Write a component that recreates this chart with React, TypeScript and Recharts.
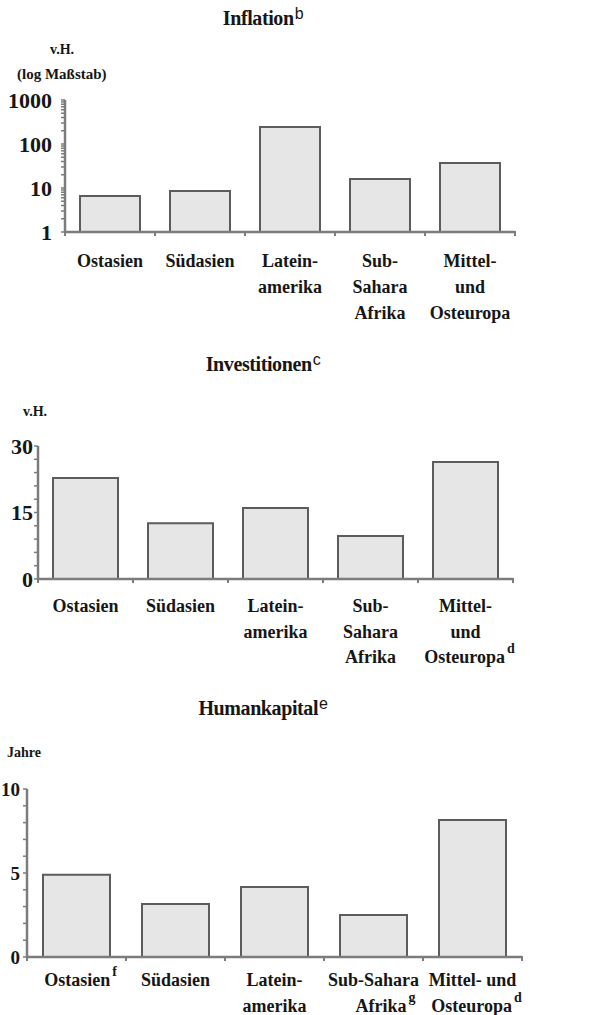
import { BarChart, Bar, XAxis, YAxis } from 'recharts';

// Regions on the x axis (same order in all three panels)
const regions = ['Ostasien', 'Südasien', 'Lateinamerika', 'Sub-Sahara Afrika', 'Mittel- und Osteuropa'];

// Tick labels as printed (line breaks per panel)
const labelsTop = [['Ostasien'], ['Südasien'], ['Latein-', 'amerika'], ['Sub-', 'Sahara', 'Afrika'], ['Mittel-', 'und', 'Osteuropa']];
const labelsBottom = [['Ostasien'], ['Südasien'], ['Latein-', 'amerika'], ['Sub-Sahara', 'Afrika'], ['Mittel- und', 'Osteuropa']];
const notesInflation = ['', '', '', '', ''];
const notesInvest = ['', '', '', '', 'd'];
const notesHuman = ['f', '', '', 'g', 'd'];

// Values
const inflation = [6.6, 8.5, 245, 16, 37]; // v.H., log scale
const investitionen = [22.8, 12.6, 16.0, 9.7, 26.4]; // v.H.
const humankapital = [4.9, 3.15, 4.17, 2.5, 8.15]; // Jahre

// Y ticks (major ones get a label)
const inflationTicks = [1, 2, 3, 4, 5, 6, 7, 8, 9, 10, 20, 30, 40, 50, 60, 70, 80, 90, 100, 200, 300, 400, 500, 600, 700, 800, 900, 1000];
const inflationMajor = [1, 10, 100, 1000];
const investTicks = [0, 3, 6, 9, 12, 15, 18, 21, 24, 27, 30];
const investMajor = [0, 15, 30];
const humanTicks = [0, 1, 2, 3, 4, 5, 6, 7, 8, 9, 10];
const humanMajor = [0, 5, 10];

const SERIF = "'Liberation Serif', 'DejaVu Serif', serif";
const INK = '#161616';
const AXIS = '#7c7c7c';

const makeRows = (values: number[]) => regions.map((name, i) => ({ name, value: values[i] }));

function CategoryTick(props: any) {
  const { x, y, payload, index, labels, notes, shifts, firstDy, lineGap, half, count } = props;
  const idx = index ?? payload.index;
  const rows: string[] = labels[idx];
  const note: string = notes[idx];
  const shift: number = shifts ? shifts[idx] : 0;
  const h = payload.offset ?? half;
  return (
    <g>
      <line x1={x - h} y1={y - 1} x2={x - h} y2={y + 4} stroke={AXIS} strokeWidth={2} />
      {idx === count - 1 && <line x1={x + h} y1={y - 1} x2={x + h} y2={y + 4} stroke={AXIS} strokeWidth={2} />}
      <text textAnchor="middle" fontFamily={SERIF} fontWeight="bold" fontSize={18} fill={INK}>
        {rows.map((r, i) => (
          <tspan key={i} x={note && i === rows.length - 1 ? x + 4 + shift : x} y={y + firstDy + i * lineGap}>
            {r}
          </tspan>
        ))}
        {note && (
          <tspan dx={2} dy={-10} fontSize={14} fontWeight="bold">
            {note}
          </tspan>
        )}
      </text>
    </g>
  );
}

interface PanelProps {
  top: number;
  height: number;
  plotLeft: number;
  plotRight: number;
  plotTop: number;
  plotBottom: number;
  values: number[];
  labels: string[][];
  notes: string[];
  shifts?: number[];
  ticks: number[];
  major: number[];
  domain: [number, number];
  log?: boolean;
  tickFont: number;
  tickMargin: number;
  firstDy: number;
  lineGap: number;
  gap: number;
}

function Panel(p: PanelProps) {
  const width = 597;
  const band = (p.plotRight - p.plotLeft) / regions.length;
  return (
    <div style={{ position: 'absolute', left: 0, top: p.top }}>
      <BarChart
        width={width}
        height={p.height}
        data={makeRows(p.values)}
        barCategoryGap={p.gap}
        margin={{ top: p.plotTop, right: width - p.plotRight, left: 0, bottom: p.height - p.plotBottom - 30 }}
      >
        <XAxis
          dataKey="name"
          height={30}
          interval={0}
          tickLine={false}
          tickSize={0}
          tickMargin={0}
          axisLine={{ stroke: AXIS, strokeWidth: 2.5 }}
          tick={
            <CategoryTick
              labels={p.labels}
              notes={p.notes}
              shifts={p.shifts}
              firstDy={p.firstDy}
              lineGap={p.lineGap}
              half={band / 2}
              count={regions.length}
            />
          }
        />
        <YAxis
          width={p.plotLeft}
          type="number"
          scale={p.log ? 'log' : 'auto'}
          domain={p.domain}
          allowDataOverflow
          ticks={p.ticks}
          interval={0}
          tickSize={4}
          tickMargin={p.tickMargin}
          tickFormatter={(v: number) => (p.major.includes(v) ? String(v) : '')}
          tickLine={{ stroke: AXIS, strokeWidth: 1.5 }}
          axisLine={{ stroke: AXIS, strokeWidth: 2.5 }}
          tick={{ fill: INK, fontSize: p.tickFont, fontWeight: 'bold', fontFamily: SERIF }}
        />
        <Bar dataKey="value" fill="#e6e6e6" stroke="#5c5c5c" strokeWidth={2} isAnimationActive={false} />
      </BarChart>
    </div>
  );
}

const titleStyle = (top: number): React.CSSProperties => ({
  position: 'absolute',
  left: 0,
  width: 526,
  top,
  textAlign: 'center',
  fontFamily: SERIF,
  fontWeight: 'bold',
  fontSize: 20,
  letterSpacing: -0.4,
  lineHeight: 1,
  color: INK,
});

const supStyle: React.CSSProperties = {
  fontFamily: "'Liberation Sans', Arial, sans-serif",
  fontWeight: 'normal',
  fontSize: 16,
  position: 'relative',
  top: -6,
  marginLeft: 1,
};

const unitStyle = (left: number, top: number, size = 14): React.CSSProperties => ({
  position: 'absolute',
  left,
  top,
  fontFamily: SERIF,
  fontWeight: 'bold',
  fontSize: size,
  lineHeight: 1,
  color: INK,
  whiteSpace: 'nowrap',
});

export default function App() {
  return (
    <div style={{ position: 'absolute', left: 0, top: 0, width: 597, height: 1015, background: '#fff', overflow: 'hidden' }}>
      <div style={titleStyle(8)}>
        Inflation<span style={supStyle}>b</span>
      </div>
      <div style={unitStyle(50, 43)}>v.H.</div>
      <div style={unitStyle(17, 67, 15)}>(log Maßstab)</div>
      <Panel
        top={0}
        height={330}
        plotLeft={65}
        plotRight={515}
        plotTop={100}
        plotBottom={232}
        values={inflation}
        labels={labelsTop}
        notes={notesInflation}
        ticks={inflationTicks}
        major={inflationMajor}
        domain={[1, 1000]}
        log
        tickFont={22}
        tickMargin={9}
        firstDy={35}
        lineGap={26}
        gap={15}
      />

      <div style={titleStyle(354)}>
        Investitionen<span style={supStyle}>c</span>
      </div>
      <div style={unitStyle(23, 405)}>v.H.</div>
      <Panel
        top={340}
        height={360}
        plotLeft={38}
        plotRight={513}
        plotTop={106}
        plotBottom={239}
        values={investitionen}
        labels={labelsTop}
        notes={notesInvest}
        ticks={investTicks}
        major={investMajor}
        domain={[0, 30]}
        tickFont={22}
        tickMargin={1}
        firstDy={33}
        lineGap={25.5}
        gap={15}
      />

      <div style={titleStyle(698)}>
        Humankapital<span style={supStyle}>e</span>
      </div>
      <div style={unitStyle(7, 746)}>Jahre</div>
      <Panel
        top={700}
        height={315}
        plotLeft={27}
        plotRight={522}
        plotTop={89}
        plotBottom={257}
        values={humankapital}
        labels={labelsBottom}
        notes={notesHuman}
        shifts={[0, 0, 0, 8, 0]}
        ticks={humanTicks}
        major={humanMajor}
        domain={[0, 10]}
        tickFont={19}
        tickMargin={3}
        firstDy={29}
        lineGap={26}
        gap={16}
      />
    </div>
  );
}
